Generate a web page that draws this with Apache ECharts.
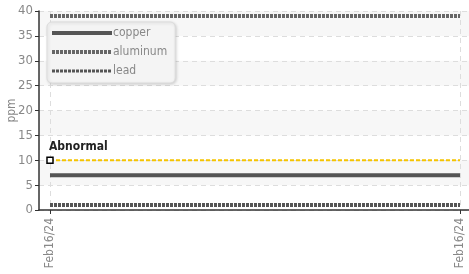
<!DOCTYPE html>
<html>
<head>
<meta charset="UTF-8">
<script src="https://cdn.jsdelivr.net/npm/echarts@6.0.0/dist/echarts.min.js"></script>
<style>
  html, body { margin: 0; padding: 0; background: #fff; }
  #chart { width: 469px; height: 274px; }
</style>
</head>
<body>
<div id="chart"></div>
<script>
// data
const xPos = [0, 1];
const xLabels = ['Feb16/24', 'Feb16/24'];
const copper = [7, 7];
const aluminum = [39, 39];
const lead = [1, 1];
const abnormal = [10, 10];
const yTicks = [0, 5, 10, 15, 20, 25, 30, 35, 40];

const font = '"DejaVu Sans Condensed", "Roboto Condensed", Roboto, sans-serif';
const pair = (vals) => vals.map((v, i) => [xPos[i], v]);

const chart = echarts.init(document.getElementById('chart'));
chart.setOption({
  animation: false,
  textStyle: { fontFamily: font },
  grid: { left: 39, right: -2, top: 11, bottom: 64, outerBoundsMode: 'none', containLabel: false },
  legend: {
    data: [
      { name: 'copper', lineStyle: { width: 4 } },
      { name: 'aluminum', lineStyle: { width: 4 } },
      { name: 'lead', lineStyle: { width: 3 } }
    ],
    orient: 'vertical',
    left: 47, top: 22,
    itemWidth: 60, itemHeight: 6, itemGap: 7,
    padding: [5, 8, 6, 3],
    itemStyle: { opacity: 0 },
    backgroundColor: '#f4f4f4',
    borderColor: '#dcdcdc', borderWidth: 1, borderRadius: 5,
    shadowColor: 'rgba(0,0,0,0.15)', shadowBlur: 3, shadowOffsetX: 1, shadowOffsetY: 1,
    textStyle: { color: '#888', fontSize: 12, fontFamily: font, padding: [0, 0, 0, -4] }
  },
  xAxis: {
    type: 'value',
    min: -0.0268, max: 1.0268,
    axisLine: { lineStyle: { color: '#333', width: 1.5 } },
    axisTick: { customValues: xPos, length: 4, lineStyle: { color: '#333' } },
    axisLabel: {
      customValues: xPos,
      rotate: 90,
      color: '#888', fontSize: 12, fontFamily: font,
      formatter: (v) => xLabels[xPos.indexOf(v)] || ''
    },
    splitLine: { show: true, lineStyle: { color: '#ddd', type: [5, 4] } }
  },
  yAxis: {
    type: 'value',
    min: 0, max: 40, interval: 5,
    name: 'ppm', nameLocation: 'middle', nameGap: 21, nameMoveOverlap: false,
    nameTextStyle: { color: '#888', fontSize: 12, fontFamily: font },
    axisLine: { show: true, onZero: false, lineStyle: { color: '#333', width: 1.5 } },
    axisTick: { show: true, length: 4, lineStyle: { color: '#333' } },
    axisLabel: {
      color: '#888', fontSize: 13, fontFamily: font, margin: 6,
      formatter: (v) => yTicks.includes(v) ? String(v) : ''
    },
    splitLine: { lineStyle: { color: '#ddd', type: [5, 4] } },
    splitArea: { show: true, areaStyle: { color: ['rgba(255,255,255,0)', '#f7f7f7'] } }
  },
  series: [
    {
      name: 'copper', type: 'line', data: pair(copper),
      symbol: 'none', color: '#555',
      lineStyle: { color: '#555', width: 4 }
    },
    {
      name: 'aluminum', type: 'line', data: pair(aluminum),
      symbol: 'none', color: '#666',
      lineStyle: { color: '#666', width: 4, type: [3, 1] }
    },
    {
      name: 'lead', type: 'line', data: pair(lead),
      symbol: 'none', color: '#555',
      lineStyle: { color: '#555', width: 4, type: [3, 1] }
    },
    {
      name: 'Abnormal', type: 'line',
      data: [
        {
          value: [xPos[0], abnormal[0]], symbol: 'rect', symbolSize: 6,
          label: {
            show: true, position: 'top', formatter: 'Abnormal',
            color: '#222', fontWeight: 'bold', fontSize: 12, fontFamily: font,
            align: 'left', offset: [-1, 1]
          }
        },
        { value: [xPos[1], abnormal[1]], symbol: 'none' }
      ],
      showAllSymbol: true,
      itemStyle: { color: '#fff', borderColor: '#000', borderWidth: 1.5 },
      lineStyle: { color: '#f5c400', width: 2, type: [4, 2] },
      z: 3
    }
  ]
});
</script>
</body>
</html>
